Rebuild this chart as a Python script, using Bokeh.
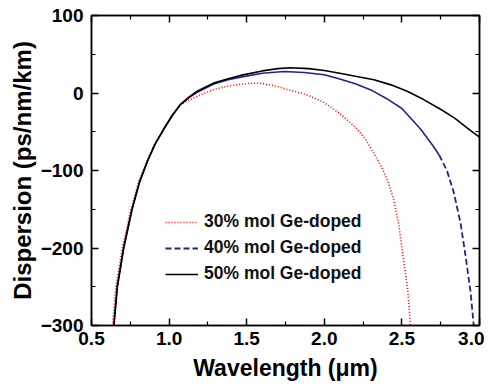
from bokeh.plotting import figure
from bokeh.models import (LinearAxis, FixedTicker, Legend, LegendItem, Range1d,
                          PrintfTickFormatter, CustomJSTickFormatter)
from bokeh.embed import file_html
from bokeh.resources import INLINE

# ---- data ----
x_ticks = [0.5, 1.0, 1.5, 2.0, 2.5, 3.0]
x_minor = [0.75, 1.25, 1.75, 2.25, 2.75]
y_ticks = [-300, -200, -100, 0, 100]
y_minor = [-250, -150, -50, 50]

labels = ["30% mol Ge-doped", "40% mol Ge-doped", "50% mol Ge-doped"]

x30 = [0.635, 0.657, 0.699, 0.754, 0.804, 0.854, 0.907, 0.964, 1.02, 1.073, 1.13, 1.181,
       1.288, 1.38, 1.46, 1.52, 1.58, 1.65, 1.72, 1.78, 1.85, 1.92, 2.0, 2.104, 2.212,
       2.27, 2.32, 2.37, 2.41, 2.448, 2.48, 2.508, 2.538, 2.555]
y30 = [-300, -250, -200, -150, -115, -89, -66, -46.5, -29.5, -15.5, -9, -4,
       4.5, 9, 11.3, 12.5, 12.6, 10.5, 7, 3.5, 0, -5, -12.5, -27, -46.5,
       -61, -78, -96, -114, -138, -170, -212, -255, -300]

x40 = [0.643, 0.665, 0.706, 0.76, 0.808, 0.857, 0.909, 0.966, 1.02, 1.073, 1.13, 1.181,
       1.288, 1.38, 1.46, 1.6, 1.74, 1.87, 2.0, 2.1, 2.2, 2.3, 2.4, 2.5, 2.62, 2.7,
       2.74, 2.79, 2.834, 2.878, 2.91, 2.942, 2.963]
y40 = [-300, -250, -200, -150, -115, -89, -66, -46.5, -29, -15, -5.5, 1,
       11.5, 17, 20.5, 25.5, 27.8, 26.5, 23.5, 18, 12, 4, -7, -20, -46.5, -68,
       -80, -100, -128, -168, -210, -256, -300]

x50 = [0.645, 0.667, 0.708, 0.762, 0.81, 0.859, 0.91, 0.966, 1.02, 1.073, 1.13, 1.181,
       1.288, 1.38, 1.46, 1.6, 1.7, 1.78, 1.9, 2.0, 2.1, 2.2, 2.32, 2.43, 2.534, 2.64,
       2.749, 2.84, 2.92, 2.96, 3.0]
y50 = [-300, -250, -200, -150, -115, -89, -66, -46.5, -29, -14.6, -5, 2.3,
       13, 18.5, 22.7, 28.5, 31.5, 32.5, 31.5, 29, 25.5, 21.5, 17.2, 10.5, 2.3, -8.5,
       -21, -32.5, -45, -51, -57]

FONT = "Liberation Sans"

p = figure(width=484, height=383, output_backend="svg", toolbar_location=None,
           x_range=Range1d(0.5, 3.0), y_range=Range1d(-300, 100),
           min_border_left=91, min_border_right=5, min_border_top=15, min_border_bottom=54,
           background_fill_color="white", border_fill_color="white")
p.grid.visible = False
p.outline_line_color = "black"
p.outline_line_width = 1.5

xt = FixedTicker(ticks=x_ticks, minor_ticks=x_minor)
yt = FixedTicker(ticks=y_ticks, minor_ticks=y_minor)


def style(ax, ticker):
    ax.ticker = ticker
    ax.axis_line_color = "black"
    ax.axis_line_width = 1.5
    ax.major_tick_in = 7
    ax.major_tick_out = 0
    ax.minor_tick_in = 4
    ax.minor_tick_out = 0
    ax.major_tick_line_width = 1.5
    ax.minor_tick_line_width = 1.2
    ax.major_label_text_font = FONT
    ax.major_label_text_font_style = "bold"
    ax.major_label_text_color = "black"
    ax.major_label_text_font_size = "19px"


xa = p.xaxis[0]
ya = p.yaxis[0]
style(xa, xt)
style(ya, yt)
xa.formatter = PrintfTickFormatter(format="%.1f")
xa.major_label_standoff = 6
ya.major_label_standoff = 8
xa.axis_label = "Wavelength (\u03bcm)"
ya.axis_label = "Dispersion (ps/nm/km)"
for ax, sz in ((xa, "23px"), (ya, "24px")):
    ax.axis_label_text_font = FONT
    ax.axis_label_text_font_style = "bold"
    ax.axis_label_text_font_size = sz
    ax.axis_label_text_color = "black"
xa.axis_label_standoff = 7
ya.axis_label_standoff = 2

blank = CustomJSTickFormatter(code="return ''")
top = LinearAxis(formatter=blank)
right = LinearAxis(formatter=blank)
style(top, xt)
style(right, yt)
top.major_label_standoff = 0
right.major_label_standoff = 0
p.add_layout(top, "above")
p.add_layout(right, "right")

r30 = p.line(x30, y30, line_color="#ff0000", line_width=1.6, line_dash="1 2")

split = next(i for i, v in enumerate(x40) if v >= 2.74)
r40a = p.line(x40[:split + 1], y40[:split + 1], line_color="#23238a", line_width=1.6)
r40b = p.line(x40[split:], y40[split:], line_color="#23238a", line_width=1.8, line_dash="6 3")

r50 = p.line(x50, y50, line_color="black", line_width=1.6)

legend = Legend(items=[LegendItem(label=labels[0], renderers=[r30]),
                       LegendItem(label=labels[1], renderers=[r40b]),
                       LegendItem(label=labels[2], renderers=[r50])],
                location=(74, 41), orientation="vertical",
                border_line_color=None, background_fill_alpha=0,
                padding=0, margin=0, spacing=5,
                glyph_width=33, glyph_height=20, label_height=20,
                label_standoff=6,
                label_text_font=FONT, label_text_font_style="bold",
                label_text_font_size="17.5px", label_text_color="#111111")
p.add_layout(legend, "center")

open("out.html", "w").write(file_html(p, INLINE))
